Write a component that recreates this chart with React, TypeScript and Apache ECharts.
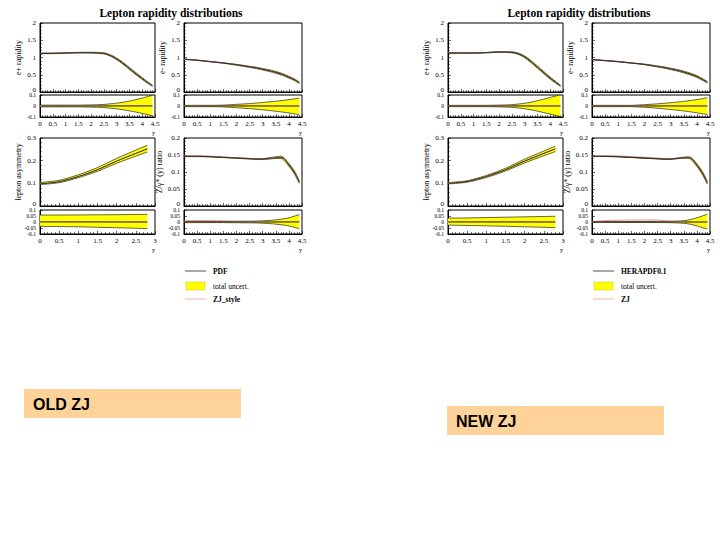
import React, { useEffect, useRef } from 'react';
import * as echarts from 'echarts';

// ---------- data ----------
const TITLE = 'Lepton rapidity distributions';
const X_RAP = [0, 0.5, 1, 1.5, 2, 2.5, 2.75, 3, 3.25, 3.5, 3.75, 4, 4.2, 4.4];
const X_ASY = [0, 0.5, 1, 1.5, 2, 2.5, 2.8];

const Y_NAMES = ['e+ rapidity', 'e- rapidity', 'lepton asymmetry', 'Z/γ* (y) ratio'];

// OLD ZJ figure
const ePlusOld = [1.12, 1.12, 1.13, 1.14, 1.14, 1.12, 1.06, 0.96, 0.83, 0.68, 0.53, 0.39, 0.28, 0.18];
const ePlusOldHi = [0.008, 0.008, 0.008, 0.008, 0.01, 0.014, 0.02, 0.026, 0.034, 0.045, 0.058, 0.072, 0.085, 0.098];
const ePlusOldLo = [-0.008, -0.008, -0.008, -0.008, -0.01, -0.014, -0.02, -0.026, -0.034, -0.044, -0.055, -0.068, -0.078, -0.088];
const ePlusOldZJ = [0.004, 0.004, 0.004, 0.004, 0.004, 0.004, 0.004, 0.004, 0.004, 0.004, 0.004, 0.004, 0.004, 0.004];

const eMinusOld = [0.95, 0.92, 0.88, 0.84, 0.79, 0.73, 0.7, 0.66, 0.62, 0.57, 0.51, 0.43, 0.36, 0.27];
const eMinusOldHi = [0.006, 0.006, 0.006, 0.008, 0.015, 0.022, 0.027, 0.032, 0.038, 0.044, 0.05, 0.058, 0.065, 0.072];
const eMinusOldLo = [-0.006, -0.006, -0.006, -0.008, -0.016, -0.024, -0.029, -0.035, -0.041, -0.048, -0.055, -0.063, -0.071, -0.08];
const eMinusOldZJ = [0.005, 0.005, 0.005, 0.005, 0.004, 0.004, 0.003, 0.003, 0.002, 0.002, 0.001, 0.001, 0.001, 0.001];

const asymOld = [0.098, 0.107, 0.13, 0.16, 0.198, 0.232, 0.252];
const asymOldHi = [0.058, 0.058, 0.059, 0.06, 0.061, 0.063, 0.064];
const asymOldLo = [-0.036, -0.038, -0.04, -0.044, -0.048, -0.052, -0.055];
const asymOldZJ = [0.004, 0.004, 0.004, 0.003, 0.002, 0.001, 0.0];

const zOld = [0.146, 0.146, 0.145, 0.143, 0.141, 0.139, 0.138, 0.138, 0.14, 0.142, 0.142, 0.121, 0.1, 0.07];
const zOldHi = [0.005, 0.005, 0.005, 0.005, 0.006, 0.007, 0.008, 0.01, 0.013, 0.018, 0.025, 0.035, 0.048, 0.062];
const zOldLo = [-0.005, -0.005, -0.005, -0.005, -0.006, -0.007, -0.008, -0.01, -0.013, -0.018, -0.024, -0.033, -0.045, -0.056];
const zOldZJ = [0.012, 0.012, 0.011, 0.009, 0.006, 0.004, 0.003, 0.002, 0.002, 0.002, 0.002, 0.002, 0.002, 0.002];

// NEW ZJ figure
const ePlusNew = [1.13, 1.13, 1.13, 1.14, 1.16, 1.15, 1.11, 1.02, 0.88, 0.72, 0.56, 0.4, 0.29, 0.18];
const ePlusNewHi = [0.006, 0.006, 0.006, 0.006, 0.008, 0.012, 0.018, 0.025, 0.035, 0.048, 0.062, 0.078, 0.09, 0.1];
const ePlusNewLo = [-0.006, -0.006, -0.006, -0.006, -0.008, -0.012, -0.018, -0.025, -0.035, -0.047, -0.06, -0.074, -0.085, -0.095];
const ePlusNewZJ = [0.003, 0.003, 0.004, 0.005, 0.006, 0.005, 0.004, 0.003, 0.003, 0.002, 0.002, 0.002, 0.002, 0.002];

const eMinusNew = [0.94, 0.91, 0.88, 0.84, 0.8, 0.74, 0.71, 0.67, 0.63, 0.58, 0.52, 0.45, 0.37, 0.28];
const eMinusNewHi = [0.006, 0.006, 0.006, 0.006, 0.012, 0.02, 0.025, 0.03, 0.036, 0.042, 0.05, 0.058, 0.066, 0.075];
const eMinusNewLo = [-0.006, -0.006, -0.006, -0.006, -0.012, -0.02, -0.026, -0.032, -0.038, -0.045, -0.053, -0.062, -0.07, -0.078];
const eMinusNewZJ = [0.004, 0.004, 0.004, 0.004, 0.004, 0.003, 0.003, 0.003, 0.002, 0.002, 0.002, 0.002, 0.002, 0.002];

const asymNew = [0.1, 0.108, 0.13, 0.16, 0.198, 0.232, 0.252];
const asymNewHi = [0.032, 0.034, 0.037, 0.04, 0.043, 0.046, 0.048];
const asymNewLo = [-0.026, -0.029, -0.032, -0.036, -0.04, -0.044, -0.047];
const asymNewZJ = [0.004, 0.004, 0.003, 0.003, 0.002, 0.001, 0.0];

const zNew = [0.146, 0.146, 0.145, 0.143, 0.141, 0.139, 0.138, 0.138, 0.14, 0.142, 0.141, 0.12, 0.098, 0.068];
const zNewHi = [0.004, 0.004, 0.004, 0.004, 0.004, 0.005, 0.005, 0.006, 0.008, 0.011, 0.02, 0.035, 0.05, 0.065];
const zNewLo = [-0.004, -0.004, -0.004, -0.004, -0.004, -0.005, -0.005, -0.006, -0.008, -0.011, -0.019, -0.032, -0.046, -0.058];
const zNewZJ = [0.004, 0.012, 0.015, 0.016, 0.017, 0.016, 0.012, 0.008, 0.004, 0.002, 0.0, 0.0, 0.0, 0.0];

const LEGEND_OLD = ['PDF', 'total uncert.', 'ZJ_style'];
const LEGEND_NEW = ['HERAPDF0.1', 'total uncert.', 'ZJ'];

// ---------- layout ----------
const COLS = [
  { left: 40, width: 115 },
  { left: 184, width: 118 },
];
const ROWS = [
  { top: 23, h: 69, rTop: 95, rH: 22 },
  { top: 138, h: 68, rTop: 210, rH: 24 },
];
const SERIF = 'Liberation Serif, DejaVu Serif, serif';
const YELLOW = '#ffff00';
const PDF_COLOR = '#2e2e22';
const ZJ_COLOR = '#e07a7a';

type Panel = {
  xs: number[]; y: number[]; hi: number[]; lo: number[]; zj: number[];
  xMax: number; yMax: number; yInt: number;
};

const FIGS = [
  {
    dx: 0, legend: LEGEND_OLD, box: 'OLD ZJ', boxX: 24, boxY: 389,
    panels: [
      { xs: X_RAP, y: ePlusOld, hi: ePlusOldHi, lo: ePlusOldLo, zj: ePlusOldZJ, xMax: 4.5, yMax: 2, yInt: 0.5 },
      { xs: X_RAP, y: eMinusOld, hi: eMinusOldHi, lo: eMinusOldLo, zj: eMinusOldZJ, xMax: 4.5, yMax: 2, yInt: 0.5 },
      { xs: X_ASY, y: asymOld, hi: asymOldHi, lo: asymOldLo, zj: asymOldZJ, xMax: 3, yMax: 0.3, yInt: 0.1 },
      { xs: X_RAP, y: zOld, hi: zOldHi, lo: zOldLo, zj: zOldZJ, xMax: 4.5, yMax: 0.2, yInt: 0.05 },
    ] as Panel[],
  },
  {
    dx: 408, legend: LEGEND_NEW, box: 'NEW ZJ', boxX: 447, boxY: 406,
    panels: [
      { xs: X_RAP, y: ePlusNew, hi: ePlusNewHi, lo: ePlusNewLo, zj: ePlusNewZJ, xMax: 4.5, yMax: 2, yInt: 0.5 },
      { xs: X_RAP, y: eMinusNew, hi: eMinusNewHi, lo: eMinusNewLo, zj: eMinusNewZJ, xMax: 4.5, yMax: 2, yInt: 0.5 },
      { xs: X_ASY, y: asymNew, hi: asymNewHi, lo: asymNewLo, zj: asymNewZJ, xMax: 3, yMax: 0.3, yInt: 0.1 },
      { xs: X_RAP, y: zNew, hi: zNewHi, lo: zNewLo, zj: zNewZJ, xMax: 4.5, yMax: 0.2, yInt: 0.05 },
    ] as Panel[],
  },
];

function bandSeries(idx: number, xs: number[], lo: number[], hi: number[]) {
  return {
    type: 'custom',
    xAxisIndex: idx,
    yAxisIndex: idx,
    silent: true,
    z: 1,
    data: xs.map((x, i) => [x, lo[i], hi[i]]),
    encode: { x: 0, y: [1, 2] },
    renderItem: (params: any, api: any) => {
      if (params.dataIndex !== 0) return null;
      const up = xs.map((x, i) => api.coord([x, hi[i]]));
      const dn = xs.map((x, i) => api.coord([x, lo[i]]));
      return {
        type: 'group',
        children: [
          { type: 'polygon', shape: { points: up.concat(dn.slice().reverse()) }, style: { fill: YELLOW, stroke: null } },
          { type: 'polyline', shape: { points: up, smooth: 0.3 }, style: { fill: null, stroke: '#000', lineWidth: 0.6 } },
          { type: 'polyline', shape: { points: dn, smooth: 0.3 }, style: { fill: null, stroke: '#000', lineWidth: 0.6 } },
        ],
      };
    },
  };
}

function lineSeries(idx: number, xs: number[], ys: number[], color: string, width: number, z: number) {
  return {
    type: 'line',
    xAxisIndex: idx,
    yAxisIndex: idx,
    data: xs.map((x, i) => [x, ys[i]]),
    showSymbol: false,
    symbol: 'none',
    smooth: 0.3,
    silent: true,
    z,
    lineStyle: { color, width },
  };
}

function buildOption() {
  const grids: any[] = [];
  const xAxes: any[] = [];
  const yAxes: any[] = [];
  const series: any[] = [];
  const graphic: any[] = [];
  const titles: any[] = [];

  const axisCommon = {
    axisLine: { show: true, onZero: false, lineStyle: { color: '#000', width: 1 } },
    axisTick: { show: true, inside: true, length: 3, lineStyle: { color: '#000', width: 0.6 } },
    splitLine: { show: false },
  };

  FIGS.forEach((fig) => {
    titles.push({
      text: TITLE,
      left: fig.dx + 166,
      top: 2,
      textAlign: 'center',
      textStyle: { fontFamily: SERIF, fontWeight: 'bold', fontSize: 11.5, color: '#000' },
    });

    fig.panels.forEach((p, k) => {
      const col = COLS[k % 2];
      const row = ROWS[Math.floor(k / 2)];
      const left = fig.dx + col.left;

      // main panel
      const gi = grids.length;
      grids.push({ left, top: row.top, width: col.width, height: row.h, show: true, borderColor: '#000', borderWidth: 1, backgroundColor: 'transparent' });
      xAxes.push({
        gridIndex: gi, type: 'value', min: 0, max: p.xMax, interval: 0.5,
        ...axisCommon,
        axisLabel: { show: false },
        minorTick: { show: true, splitNumber: 5, length: 2, lineStyle: { color: '#000', width: 0.5 } },
      });
      yAxes.push({
        gridIndex: gi, type: 'value', min: 0, max: p.yMax, interval: p.yInt,
        ...axisCommon,
        name: Y_NAMES[k], nameLocation: 'middle', nameGap: 18, nameRotate: 90,
        nameTextStyle: { fontFamily: SERIF, fontSize: 8, color: '#000' },
        axisLabel: {
          fontFamily: SERIF, fontSize: 7, color: '#000', margin: 4, showMinLabel: true, showMaxLabel: true,
          formatter: (v: number) => (v === 0 ? '{z|0}' : String(+v.toFixed(3))),
          rich: { z: { fontFamily: SERIF, fontSize: 7, color: '#000', padding: [0, 0, 5, 0] } },
        },
        minorTick: { show: true, splitNumber: 5, length: 2, lineStyle: { color: '#000', width: 0.5 } },
      });
      const mainLo = p.y.map((v, i) => v * (1 + p.lo[i]));
      const mainHi = p.y.map((v, i) => v * (1 + p.hi[i]));
      const mainZJ = p.y.map((v, i) => v * (1 + p.zj[i]));
      series.push(bandSeries(gi, p.xs, mainLo, mainHi));
      series.push(lineSeries(gi, p.xs, mainZJ, ZJ_COLOR, 0.8, 3));
      series.push(lineSeries(gi, p.xs, p.y, PDF_COLOR, 1, 4));

      // ratio panel
      const ri = grids.length;
      grids.push({ left, top: row.rTop, width: col.width, height: row.rH, show: true, borderColor: '#000', borderWidth: 1, backgroundColor: 'transparent' });
      xAxes.push({
        gridIndex: ri, type: 'value', min: 0, max: p.xMax, interval: 0.5,
        ...axisCommon,
        axisLabel: { fontFamily: SERIF, fontSize: 7, color: '#000', margin: 3, showMaxLabel: true, showMinLabel: true },
        minorTick: { show: true, splitNumber: 5, length: 2, lineStyle: { color: '#000', width: 0.5 } },
        name: 'y', nameLocation: 'end', nameGap: -3,
        nameTextStyle: { fontFamily: SERIF, fontSize: 6, color: '#000', verticalAlign: 'top', padding: [13, 0, 0, 0] },
      });
      yAxes.push({
        gridIndex: ri, type: 'value', min: -0.1, max: 0.1, interval: 0.05,
        ...axisCommon,
        axisLabel: {
          fontFamily: SERIF, fontSize: 5.5, color: '#000', margin: 4, lineHeight: 5.5,
          showMinLabel: true, showMaxLabel: true,
          formatter: (v: number) => String(+v.toFixed(3)),
        },
      });
      series.push(bandSeries(ri, p.xs, p.lo, p.hi));
      series.push(lineSeries(ri, p.xs, p.xs.map(() => 0), PDF_COLOR, 1, 4));
      series.push(lineSeries(ri, p.xs, p.zj, ZJ_COLOR, 0.8, 3));
    });

    // legend
    const lx = fig.dx + 185;
    const tx = fig.dx + 213;
    graphic.push(
      { type: 'line', shape: { x1: lx, y1: 271, x2: lx + 21, y2: 271 }, style: { stroke: '#555', lineWidth: 1 } },
      { type: 'text', x: tx, y: 271, style: { text: fig.legend[0], fontFamily: SERIF, fontSize: 7.5, fontWeight: 'bold', fill: '#000', verticalAlign: 'middle' } },
      { type: 'rect', shape: { x: lx + 1, y: 282, width: 19, height: 8 }, style: { fill: YELLOW, stroke: '#c8c800', lineWidth: 0.5 } },
      { type: 'text', x: tx, y: 286, style: { text: fig.legend[1], fontFamily: SERIF, fontSize: 7.5, fill: '#000', verticalAlign: 'middle' } },
      { type: 'line', shape: { x1: lx, y1: 299, x2: lx + 21, y2: 299 }, style: { stroke: '#e8b8b8', lineWidth: 1 } },
      { type: 'text', x: tx, y: 299, style: { text: fig.legend[2], fontFamily: SERIF, fontSize: 7.5, fontWeight: 'bold', fill: '#000', verticalAlign: 'middle' } },
    );

    // label box
    graphic.push(
      { type: 'rect', shape: { x: fig.boxX, y: fig.boxY, width: 217, height: 29 }, style: { fill: '#fdd39a' } },
      { type: 'text', x: fig.boxX + 9, y: fig.boxY + 15.5, style: { text: fig.box, fontFamily: 'Liberation Sans, Arial, sans-serif', fontWeight: 'bold', fontSize: 16, fill: '#000', verticalAlign: 'middle' } },
    );
  });

  return {
    animation: false,
    backgroundColor: '#fff',
    title: titles,
    grid: grids,
    xAxis: xAxes,
    yAxis: yAxes,
    series,
    graphic,
  };
}

export default function App() {
  const ref = useRef<HTMLDivElement>(null);
  useEffect(() => {
    if (!ref.current) return;
    const chart = echarts.init(ref.current, undefined, { renderer: 'svg' });
    chart.setOption(buildOption() as any);
    return () => chart.dispose();
  }, []);
  return <div ref={ref} style={{ position: 'fixed', left: 0, top: 0, width: 720, height: 540 }} />;
}
